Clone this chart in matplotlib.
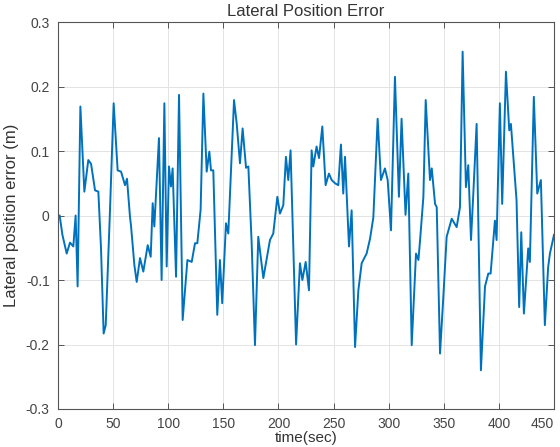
import matplotlib
matplotlib.use("Agg")
import matplotlib.pyplot as plt

plt.rcParams['font.family'] = ['Liberation Sans', 'DejaVu Sans']

# values
time_sec = [0, 1.5, 4, 7.9, 10.9, 13.9, 16, 17.8, 20.3, 23.9, 27.5, 30, 33.6, 36.6,
            39, 41.4, 43.3, 47, 50.5, 54.1, 57.2, 60.8, 62.6, 65.3, 66.2, 69.3,
            71.4, 74.4, 77.4, 81.4, 84.1, 85.9, 87.4, 91.6, 94, 96.5, 98.6, 100.7,
            102.5, 104, 107.1, 109.8, 113.1, 117.4, 121.3, 124.3, 126.4, 129.4,
            131.9, 134.9, 137.3, 138.8, 140.9, 144.5, 146.9, 149, 152.4, 154.5,
            159.7, 162.1, 165.1, 167.5, 170.6, 172.7, 175.7, 178.7, 181.7, 186.3,
            192.3, 195.3, 199, 201.4, 204.4, 206.8, 208.9, 211, 216, 219.5, 221.7,
            224.7, 227.7, 230.1, 231.6, 234.6, 236.8, 239.8, 242.8, 245.8, 248.3,
            251.3, 254.3, 256.7, 258.8, 260.4, 264, 266.4, 269.5, 272.5, 275.5,
            280, 283.1, 286.1, 290, 293, 296.6, 299.1, 302.1, 305.7, 309.3, 311.7,
            315.3, 317.8, 320.9, 324.8, 327, 328.5, 331.5, 333.6, 337.5, 339.1,
            342.1, 343.6, 346.6, 349.6, 352.6, 357.2, 361.7, 364.7, 367.1, 370.1,
            372.2, 374.7, 376.8, 379.8, 383.7, 387.4, 390.4, 392.5, 396.4, 397.9,
            400.9, 403, 406.4, 409.4, 410.9, 416, 418.4, 420.3, 422.7, 426.6, 428.1,
            431.7, 434.8, 438.1, 441.7, 444.7, 446.3, 450]
lat_error = [0.0, 0.0, -0.03, -0.059, -0.042, -0.048, 0.0, -0.110, 0.169, 0.037, 0.086,
             0.080, 0.039, 0.037, -0.05, -0.183, -0.170, 0.0, 0.174, 0.07, 0.068, 0.047,
             0.057, -0.002, -0.015, -0.077, -0.103, -0.066, -0.087, -0.046, -0.064,
             0.019, -0.017, 0.12, -0.10, 0.174, -0.079, 0.076, 0.045, 0.073, -0.095,
             0.187, -0.162, -0.069, -0.072, -0.043, -0.043, 0.009, 0.189, 0.068, 0.099,
             0.070, 0.070, -0.154, -0.069, -0.136, -0.012, -0.028, 0.179, 0.143, 0.081,
             0.135, 0.074, 0.076, -0.043, -0.201, -0.033, -0.097, -0.038, -0.028, 0.029,
             0.003, 0.016, 0.091, 0.055, 0.101, -0.2, -0.074, -0.1, -0.072, -0.116,
             0.101, 0.076, 0.107, 0.089, 0.138, 0.047, 0.065, 0.055, 0.050, 0.047,
             0.110, 0.034, 0.091, -0.048, 0.008, -0.204, -0.116, -0.074, -0.059, -0.036,
             -0.003, 0.150, 0.055, 0.073, 0.055, -0.023, 0.215, 0.029, 0.150, 0.001,
             0.065, -0.201, -0.059, -0.069, -0.038, 0.029, 0.179, 0.055, 0.073, 0.018,
             0.013, -0.214, -0.126, -0.033, -0.005, -0.018, 0.013, 0.254, 0.044, 0.078,
             -0.038, 0.034, 0.142, -0.240, -0.11, -0.09, -0.09, -0.008, -0.038, 0.174,
             0.018, 0.223, 0.132, 0.142, 0.024, -0.142, -0.026, -0.152, -0.051, -0.072,
             0.184, 0.034, 0.055, -0.17, -0.08, -0.059, -0.03]

x_ticks = [0, 50, 100, 150, 200, 250, 300, 350, 400, 450]
y_ticks = [-0.3, -0.2, -0.1, 0, 0.1, 0.2, 0.3]
y_labels = ['-0.3', '-0.2', '-0.1', '0', '0.1', '0.2', '0.3']

fig = plt.figure(figsize=(5.6, 4.47), dpi=100)
ax = fig.add_axes([58 / 560, 1 - 409 / 447, 496 / 560, 387 / 447])

ax.plot(time_sec, lat_error, color='#0072BD', lw=1.4)

ax.set_xlim(0, 450)
ax.set_ylim(-0.3, 0.3)
ax.set_xticks(x_ticks)
ax.set_yticks(y_ticks)
ax.set_yticklabels(y_labels)
ax.grid(True, color='#e3e3e3', lw=0.7)
ax.set_axisbelow(True)

for s in ax.spines.values():
    s.set_color('#555555')
    s.set_linewidth(0.8)
ax.tick_params(direction='in', top=True, right=True, length=4, width=0.7,
               color='#555555', labelcolor='#444444', labelsize=10)
ax.tick_params(axis='x', pad=6)
ax.tick_params(axis='y', pad=6)

# last x tick label sits at the figure edge, pull it inside
ax.get_xticklabels()[-1].set_ha('right')

ax.set_title('Lateral Position Error', fontsize=12, color='#333333', pad=4)
ax.set_ylabel('Lateral position error (m)', fontsize=12, color='#333333', labelpad=5)
# keep the x label inside the figure
ax.set_xlabel('time(sec)', fontsize=11, color='#333333')
ax.xaxis.set_label_coords(0.5, -(445 - 409) / 387)
ax.xaxis.label.set_va('bottom')

fig.savefig('out.png', dpi=100)
